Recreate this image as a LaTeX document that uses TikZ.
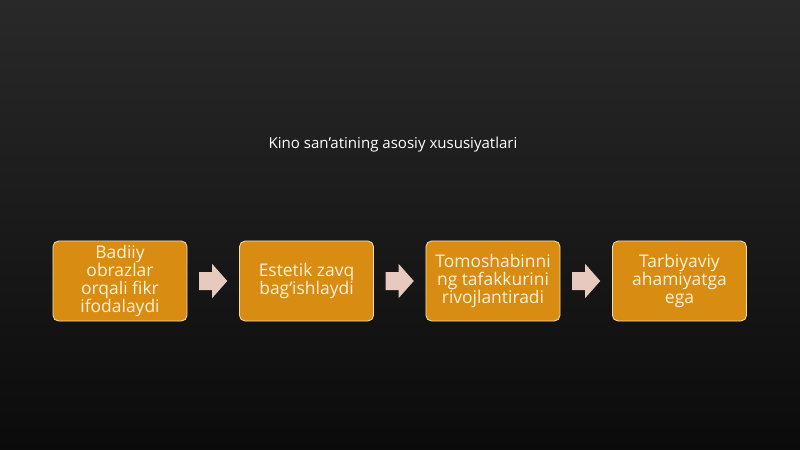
\documentclass[tikz,border=0pt]{standalone}
\usepackage{fontspec}
\setmainfont{Open Sans}
\usetikzlibrary{positioning,calc}

\definecolor{bgtop}{HTML}{292929}
\definecolor{bgbot}{HTML}{0B0B0B}
\definecolor{boxfill}{HTML}{D88C12}
\definecolor{boxline}{HTML}{F3DDB0}
\definecolor{boxtext}{HTML}{FFF2DA}
\definecolor{arrowfill}{HTML}{E8C9BE}

\begin{document}
\begin{tikzpicture}[x=0.025cm,y=0.025cm,
	stepbox/.style={draw=boxline, line width=0.6pt, fill=boxfill,
		rounded corners=4pt, minimum width=3.35cm, minimum height=2cm,
		inner sep=2pt, align=center, text=boxtext,
		font=\fontsize{12.4}{12.6}\selectfont},
	flowarrow/.style={fill=arrowfill}]
	\shade[top color=bgtop, bottom color=bgbot] (0,0) rectangle (800,-449);
	\useasboundingbox (0,0) rectangle (800,-449);

	\node[text=white, font=\fontsize{10.7}{13}\selectfont]
		  (T) at (393,-145) {Kino san’atining asosiy xususiyatlari};

	\node[stepbox] (B1) at (120,-281) {Badiiy\\obrazlar\\orqali fikr\\ifodalaydi};
	\node[stepbox, right=1.29cm of B1] (B2) {Estetik zavq\\bag‘ishlaydi};
	\node[stepbox, right=1.29cm of B2] (B3) {Tomoshabinni\\ng tafakkurini\\rivojlantiradi};
	\node[stepbox, right=1.29cm of B3] (B4) {Tarbiyaviy\\ahamiyatga\\ega};

	% block arrows between the boxes
	\foreach \a/\b in {B1/B2, B2/B3, B3/B4} {
		\coordinate (M) at ($(\a.east)!0.5!(\b.west)$);
		\fill[flowarrow] ($(M)+(-14,9)$) -- ($(M)+(-1,9)$) -- ($(M)+(-1,17)$)
			-- ($(M)+(14,0)$) -- ($(M)+(-1,-17)$) -- ($(M)+(-1,-9)$)
			-- ($(M)+(-14,-9)$) -- cycle;
	}
\end{tikzpicture}
\end{document}
